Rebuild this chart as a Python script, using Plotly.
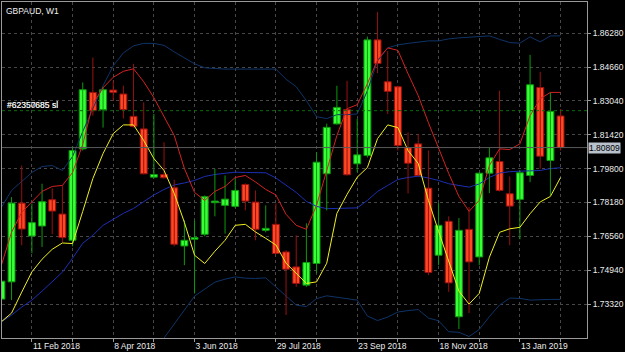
import plotly.graph_objects as go
import pandas as pd

# ---- data (GBPAUD weekly) ----
first_week = "2018-01-21"
n_weeks = 56
label_dates = ["2018-02-11", "2018-04-08", "2018-06-03", "2018-07-29",
               "2018-09-23", "2018-11-18", "2019-01-13"]
label_text = ["11 Feb 2018", "8 Apr 2018", "3 Jun 2018", "29 Jul 2018",
              "23 Sep 2018", "18 Nov 2018", "13 Jan 2019"]

open_ = [1.73559, 1.74384, 1.78152, 1.76578, 1.77055, 1.78314, 1.77628, 1.76373, 1.80747, 1.83447,
         1.82622, 1.83561, 1.83371, 1.82302, 1.81701, 1.79392, 1.79521, 1.78887, 1.76101, 1.76421,
         1.76659, 1.78171, 1.78043, 1.77995, 1.79044, 1.78200, 1.76850, 1.77136, 1.75815, 1.75099,
         1.74227, 1.75262, 1.79555, 1.81940, 1.82622, 1.80032, 1.80428, 1.85961, 1.83957, 1.83719,
         1.80795, 1.80986, 1.78868, 1.75658, 1.77279, 1.72714, 1.76898, 1.75576, 1.79583, 1.80141,
         1.78601, 1.78329, 1.79474, 1.83685, 1.80189, 1.82321]
high = [1.74465, 1.78438, 1.79951, 1.78124, 1.79078, 1.78853, 1.78997, 1.80857, 1.83924, 1.85116,
        1.83719, 1.84005, 1.83767, 1.84816, 1.82970, 1.82417, 1.81062, 1.79268, 1.77327, 1.77327,
        1.78520, 1.79793, 1.79474, 1.79316, 1.79092, 1.78758, 1.78043, 1.78138, 1.75896, 1.76612,
        1.77184, 1.80585, 1.81954, 1.83767, 1.84005, 1.82178, 1.86118, 1.87296, 1.85436, 1.83767,
        1.81539, 1.81463, 1.80666, 1.78152, 1.77518, 1.77437, 1.77961, 1.79617, 1.80823, 1.83528,
        1.79426, 1.79712, 1.85245, 1.84434, 1.83447, 1.82655]
low = [1.73416, 1.73511, 1.76135, 1.75753, 1.76053, 1.76659, 1.76278, 1.76087, 1.80666, 1.82336,
       1.81763, 1.83051, 1.82192, 1.81763, 1.79521, 1.79330, 1.79330, 1.76087, 1.75181, 1.73831,
       1.76564, 1.77518, 1.76693, 1.77914, 1.77804, 1.76373, 1.76755, 1.75705, 1.72796, 1.74145,
       1.74145, 1.74799, 1.77804, 1.81906, 1.79474, 1.79631, 1.80332, 1.84372, 1.82417, 1.80666,
       1.78615, 1.79426, 1.74704, 1.75181, 1.73907, 1.72128, 1.72891, 1.75181, 1.78629, 1.78710,
       1.76135, 1.76421, 1.79154, 1.79793, 1.78520, 1.80666]
close = [1.74417, 1.78152, 1.76912, 1.77217, 1.78219, 1.77771, 1.76502, 1.80666, 1.83576, 1.82574,
         1.83576, 1.83447, 1.82622, 1.81825, 1.79555, 1.79521, 1.79364, 1.76182, 1.76373, 1.76502,
         1.78458, 1.78248, 1.78343, 1.78758, 1.78248, 1.76898, 1.76945, 1.75739, 1.74990, 1.74308,
         1.75309, 1.80108, 1.81777, 1.82731, 1.79507, 1.80461, 1.85961, 1.84830, 1.83495, 1.80905,
         1.80060, 1.79474, 1.74832, 1.77089, 1.74336, 1.76850, 1.75338, 1.79583, 1.80318, 1.78758,
         1.78009, 1.79602, 1.83814, 1.80394, 1.82541, 1.80809]

yellow_line = [1.72476, 1.72891, 1.73893, 1.74861, 1.75467, 1.75944, 1.76244, 1.76216, 1.77756, 1.79330,
               1.80523, 1.81477, 1.81892, 1.81892, 1.81143, 1.80284, 1.79712, 1.78615, 1.77232, 1.75658,
               1.75262, 1.75848, 1.76373, 1.77089, 1.77136, 1.76769, 1.76468, 1.76149, 1.75276, 1.74775,
               1.74308, 1.74384, 1.75276, 1.77661, 1.78567, 1.79392, 1.79855, 1.81238, 1.81892, 1.81763,
               1.80666, 1.80046, 1.78281, 1.76802, 1.75371, 1.73940, 1.73320, 1.73831, 1.75562, 1.76755,
               1.76922, 1.76993, 1.77642, 1.78209, 1.78472, 1.79378]
red_line = [1.75181, 1.76755, 1.77709, 1.78233, 1.78710, 1.78949, 1.78997, 1.79617, 1.80952, 1.82908,
            1.83671, 1.84172, 1.84458, 1.84577, 1.83957, 1.83194, 1.82288, 1.81382, 1.79807, 1.78663,
            1.78281, 1.78710, 1.78949, 1.79378, 1.79474, 1.79163, 1.78806, 1.78543, 1.77613, 1.77089,
            1.76898, 1.78043, 1.79712, 1.81382, 1.82669, 1.82860, 1.83862, 1.85007, 1.85579, 1.85460,
            1.84339, 1.83290, 1.82002, 1.80809, 1.79569, 1.78472, 1.77756, 1.78281, 1.79951, 1.80747,
            1.80714, 1.80986, 1.82336, 1.83146, 1.83447, 1.83447]
band_upper = [1.77947, 1.78758, 1.79187, 1.79617, 1.79903, 1.79951, 1.79712, 1.80380, 1.81572, 1.82669,
              1.83767, 1.84721, 1.85341, 1.85675, 1.85794, 1.85794, 1.85698, 1.85388, 1.85102, 1.84816,
              1.84625, 1.84577, 1.84563, 1.84563, 1.84563, 1.84563, 1.84563, 1.84563, 1.84077, 1.83719,
              1.83051, 1.82288, 1.82192, 1.82383, 1.82383, 1.82417, 1.83528, 1.84959, 1.85579, 1.85722,
              1.85794, 1.85865, 1.85913, 1.85913, 1.86008, 1.86056, 1.86080, 1.86118, 1.86152, 1.85985,
              1.85832, 1.85803, 1.86104, 1.85865, 1.86152, 1.86152]
band_middle = [1.72476, 1.72796, 1.73177, 1.73511, 1.73940, 1.74370, 1.74847, 1.75514, 1.76230, 1.76612,
               1.77089, 1.77375, 1.77661, 1.77899, 1.78233, 1.78543, 1.78806, 1.79020, 1.79116, 1.79235,
               1.79426, 1.79521, 1.79578, 1.79631, 1.79617, 1.79607, 1.79602, 1.79354, 1.79020, 1.78663,
               1.78233, 1.77995, 1.77885, 1.77899, 1.77899, 1.77923, 1.78281, 1.78710, 1.78997, 1.79283,
               1.79378, 1.79440, 1.79354, 1.79235, 1.79078, 1.78997, 1.78915, 1.79068, 1.79378, 1.79593,
               1.79655, 1.79679, 1.79707, 1.79712, 1.79807, 1.79841]
lower_start = 14
band_lower = [1.70363, 1.71031, 1.71746, 1.72414, 1.73082, 1.73702, 1.74036, 1.74370, 1.74513, 1.74622,
              1.74560, 1.74546, 1.74575, 1.74145, 1.73702, 1.73273, 1.73201, 1.73583, 1.73716, 1.73654,
              1.73583, 1.73511, 1.72748, 1.72533, 1.72700, 1.72939, 1.73010, 1.73058, 1.72652, 1.72524,
              1.71999, 1.71970, 1.71770, 1.72104, 1.72724, 1.73273, 1.73606, 1.73592, 1.73511, 1.73540,
              1.73544, 1.73544]

price_levels = [1.73320, 1.74940, 1.76560, 1.78180, 1.79800, 1.81420, 1.83040, 1.84660, 1.86280]
sl_level = 1.82574
sl_labels = ["#62350685 sl", "#62357685 sl"]
current_price = 1.80809
title_text = "GBPAUD, W1"

# ---- build ----
weeks = pd.date_range(first_week, periods=n_weeks, freq="7D")
week = pd.Timedelta(days=7)

up = [i for i in range(n_weeks) if close[i] >= open_[i]]
dn = [i for i in range(n_weeks) if close[i] < open_[i]]

UP_FILL, UP_LINE = "#36ff36", "#0c9a0c"
DN_FILL, DN_LINE = "#ff4722", "#9a1010"


def wick_xy(idx):
    xs, ys = [], []
    for i in idx:
        xs += [weeks[i], weeks[i], None]
        ys += [low[i], high[i], None]
    return xs, ys


fig = go.Figure()

# indicator lines
fig.add_trace(go.Scatter(x=weeks[lower_start:], y=band_lower, mode="lines",
                         line=dict(color="#0f3468", width=1), hoverinfo="skip"))
fig.add_trace(go.Scatter(x=weeks, y=band_upper, mode="lines",
                         line=dict(color="#0f3468", width=1), hoverinfo="skip"))
fig.add_trace(go.Scatter(x=weeks, y=band_middle, mode="lines",
                         line=dict(color="#1c2fb4", width=1), hoverinfo="skip"))

# wicks
for idx, col in ((up, UP_LINE), (dn, DN_LINE)):
    wx, wy = wick_xy(idx)
    fig.add_trace(go.Scatter(x=wx, y=wy, mode="lines", line=dict(color=col, width=1),
                             hoverinfo="skip"))

# bodies
bar_w = 0.68 * week / pd.Timedelta(milliseconds=1)
for idx, fill, col in ((up, UP_FILL, UP_LINE), (dn, DN_FILL, DN_LINE)):
    fig.add_trace(go.Bar(x=[weeks[i] for i in idx],
                         y=[close[i] - open_[i] for i in idx],
                         base=[open_[i] for i in idx],
                         width=bar_w,
                         marker=dict(color=fill, line=dict(color=col, width=1)),
                         hoverinfo="skip"))

fig.add_trace(go.Scatter(x=weeks, y=red_line, mode="lines",
                         line=dict(color="#d42222", width=1), hoverinfo="skip"))
fig.add_trace(go.Scatter(x=weeks, y=yellow_line, mode="lines",
                         line=dict(color="#f0f020", width=1), hoverinfo="skip"))

# horizontal lines
fig.add_hline(y=current_price, line=dict(color="#5a5a5a", width=1))
fig.add_hline(y=sl_level, line=dict(color="#0b6b0b", width=1, dash="3px,3px"))

# axes
x0 = weeks[0] + 0.06 * week
x1 = weeks[0] + 57.6 * week
grid_vals = list(weeks[3::4])
grid_text = []
for d in grid_vals:
    s = d.strftime("%Y-%m-%d")
    grid_text.append(label_text[label_dates.index(s)] if s in label_dates else "")

axis_col = "#9a9a9a"
fig.update_xaxes(type="date", range=[x0, x1], tickvals=grid_vals, ticktext=grid_text,
                 showgrid=True, gridcolor="#474747", griddash="3px,3px", gridwidth=1,
                 ticks="outside", ticklen=3, tickcolor=axis_col,
                 showline=True, linecolor=axis_col, linewidth=1, mirror=True,
                 zeroline=False, ticklabelposition="outside right",
                 tickfont=dict(size=8.5, color="#ececec"))
fig.update_yaxes(side="right", range=[1.71698, 1.87773], tickvals=price_levels,
                 ticktext=[f"{v:.5f}" for v in price_levels],
                 showgrid=True, gridcolor="#474747", griddash="3px,3px", gridwidth=1,
                 ticks="outside", ticklen=3, tickcolor=axis_col,
                 showline=True, linecolor=axis_col, linewidth=1, mirror=True,
                 zeroline=False, tickfont=dict(size=8.5, color="#ececec"))

annotations = [
    dict(text=title_text, xref="paper", yref="paper", x=0, y=1, xanchor="left", yanchor="top",
         xshift=2, yshift=-2, showarrow=False, font=dict(size=8.5, color="#f0f0f0")),
    dict(text=f"{current_price:.5f}", xref="paper", yref="y", x=1, y=current_price,
         xanchor="left", yanchor="middle", xshift=1, showarrow=False,
         bgcolor="#b9c2cc", borderpad=0, font=dict(size=8.5, color="#000000")),
]
for lab in sl_labels:
    annotations.append(dict(text=lab, xref="paper", yref="y", x=0, y=sl_level,
                            xanchor="left", yanchor="bottom", xshift=3, yshift=-1,
                            showarrow=False, font=dict(size=8.5, color="#e8e8e8")))

fig.update_layout(width=625, height=352, margin=dict(l=2, r=36, t=1, b=14),
                  paper_bgcolor="#000000", plot_bgcolor="#000000",
                  showlegend=False, barmode="overlay",
                  font=dict(family="Liberation Sans, Arial, sans-serif", size=8.5, color="#ececec"),
                  annotations=annotations)

fig.write_html("out.html")
